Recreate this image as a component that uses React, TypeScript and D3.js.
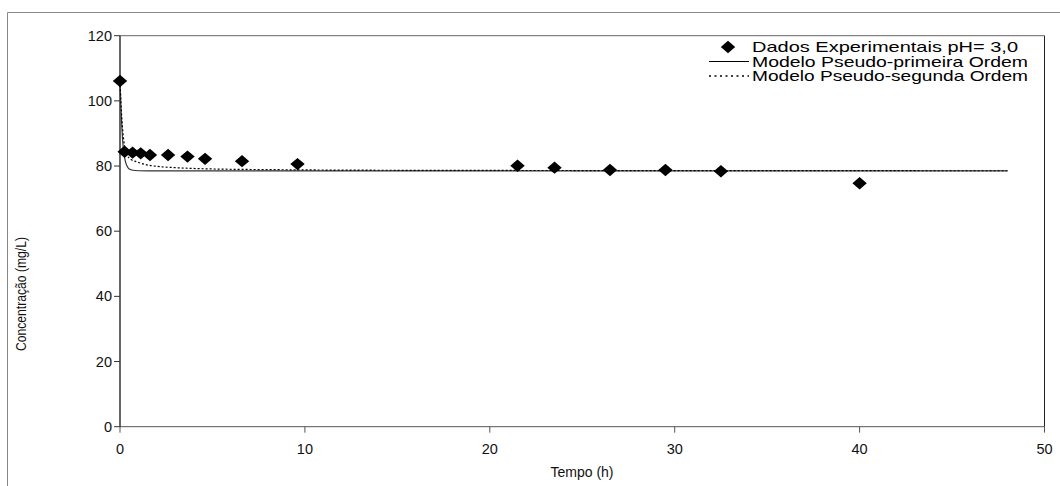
import React from "react";
import * as d3 from "d3";

// Experimental data (pH = 3,0)
const expTime = [0, 0.25, 0.68, 1.12, 1.62, 2.6, 3.65, 4.6, 6.6, 9.6, 21.5, 23.5, 26.5, 29.5, 32.5, 40];
const expConc = [106.1, 84.4, 84.1, 83.9, 83.4, 83.4, 82.9, 82.2, 81.5, 80.6, 80.1, 79.5, 78.8, 78.8, 78.4, 74.7];

// Pseudo-first-order model curve
const pfoTime = [0, 0.05, 0.1, 0.15, 0.2, 0.3, 0.4, 0.5, 0.7, 1, 1.5, 3, 10, 48];
const pfoConc = [106, 98.2, 92.0, 87.4, 84.4, 81.2, 79.8, 79.1, 78.7, 78.55, 78.5, 78.5, 78.5, 78.5];

// Pseudo-second-order model curve
const psoTime = [0, 0.05, 0.1, 0.15, 0.25, 0.4, 0.6, 0.8, 1, 1.5, 2, 3, 5, 8, 12, 20, 30, 48];
const psoConc = [106, 99.5, 94.5, 90.8, 86.0, 83.2, 82.0, 81.5, 81.1, 80.3, 79.9, 79.5, 79.1, 78.9, 78.75, 78.65, 78.6, 78.55];

const xTicks = [0, 10, 20, 30, 40, 50];
const yTicks = [0, 20, 40, 60, 80, 100, 120];

const legendLabels = [
  "Dados Experimentais pH= 3,0",
  "Modelo Pseudo-primeira Ordem",
  "Modelo Pseudo-segunda Ordem",
];

const W = 1060;
const H = 486;
const left = 120;
const right = 1044.5;
const top = 35.7;
const bottom = 426.7;
const FONT = "'Liberation Sans', Arial, sans-serif";

export default function App() {
  const x = d3.scaleLinear().domain([0, 50]).range([left, right]);
  const y = d3.scaleLinear().domain([0, 120]).range([bottom, top]);

  const line = d3
    .line<[number, number]>()
    .x((d) => x(d[0]))
    .y((d) => y(d[1]))
    .curve(d3.curveMonotoneX);

  const pfo = pfoTime.map((t, i) => [t, pfoConc[i]] as [number, number]);
  const pso = psoTime.map((t, i) => [t, psoConc[i]] as [number, number]);

  const diamond = (cx: number, cy: number, w = 7.2, h = 6.2) =>
    `M${cx},${cy - h}L${cx + w},${cy}L${cx},${cy + h}L${cx - w},${cy}Z`;

  const legX = 752;
  const legY = [52, 66.5, 81];
  const legW = [266, 276, 276];

  return (
    <svg
      width={W}
      height={H}
      style={{ position: "absolute", left: 0, top: 0, background: "#fff" }}
      fontFamily={FONT}
    >
      <rect x={0} y={0} width={W} height={H} fill="#fff" />
      {/* outer frame */}
      <line x1={7.5} y1={12.5} x2={W} y2={12.5} stroke="#888" strokeWidth={1} />
      <line x1={7.5} y1={12.5} x2={7.5} y2={H} stroke="#888" strokeWidth={1} />

      {/* plot frame */}
      <line x1={left} y1={top} x2={right} y2={top} stroke="#666" strokeWidth={1} />
      <line x1={right} y1={top} x2={right} y2={bottom} stroke="#222" strokeWidth={1} />
      <line x1={left} y1={bottom} x2={right} y2={bottom} stroke="#555" strokeWidth={1} />
      <line x1={left} y1={top} x2={left} y2={bottom} stroke="#000" strokeWidth={1.2} />

      {/* y ticks */}
      {yTicks.map((v) => (
        <g key={"y" + v}>
          <line x1={left - 6} x2={left} y1={y(v)} y2={y(v)} stroke="#333" />
          <text x={left - 8} y={y(v) + 5} textAnchor="end" fontSize={14.5} fill="#111">
            {v}
          </text>
        </g>
      ))}
      {/* x ticks */}
      {xTicks.map((v) => (
        <g key={"x" + v}>
          <line x1={x(v)} x2={x(v)} y1={bottom} y2={bottom + 6} stroke="#555" />
          <text x={x(v)} y={bottom + 27} textAnchor="middle" fontSize={14.5} fill="#111">
            {v}
          </text>
        </g>
      ))}

      {/* axis titles */}
      <text x={582} y={477} textAnchor="middle" fontSize={14} fill="#111">
        Tempo (h)
      </text>
      <text
        transform={`translate(26,${294}) rotate(-90)`}
        textAnchor="middle"
        fontSize={14}
        fill="#111"
        textLength={114}
        lengthAdjust="spacingAndGlyphs"
      >
        Concentração (mg/L)
      </text>

      {/* model curves */}
      <path d={line(pfo) || ""} fill="none" stroke="#333" strokeWidth={1.2} />
      <path d={line(pso) || ""} fill="none" stroke="#000" strokeWidth={1.2} strokeDasharray="2,2" />

      {/* experimental points */}
      {expTime.map((t, i) => (
        <path key={"p" + i} d={diamond(x(t), y(expConc[i]))} fill="#000" />
      ))}

      {/* legend */}
      <path d={diamond(728, legY[0] - 5)} fill="#000" />
      <line x1={709} x2={749} y1={legY[1] - 5} y2={legY[1] - 5} stroke="#000" strokeWidth={1} />
      <line x1={709} x2={749} y1={legY[2] - 5} y2={legY[2] - 5} stroke="#000" strokeWidth={1.6} strokeDasharray="2,3.5" />
      {legendLabels.map((s, i) => (
        <text
          key={"l" + i}
          x={legX}
          y={legY[i]}
          fontSize={14.5}
          fill="#000"
          textLength={legW[i]}
          lengthAdjust="spacingAndGlyphs"
        >
          {s}
        </text>
      ))}
    </svg>
  );
}
